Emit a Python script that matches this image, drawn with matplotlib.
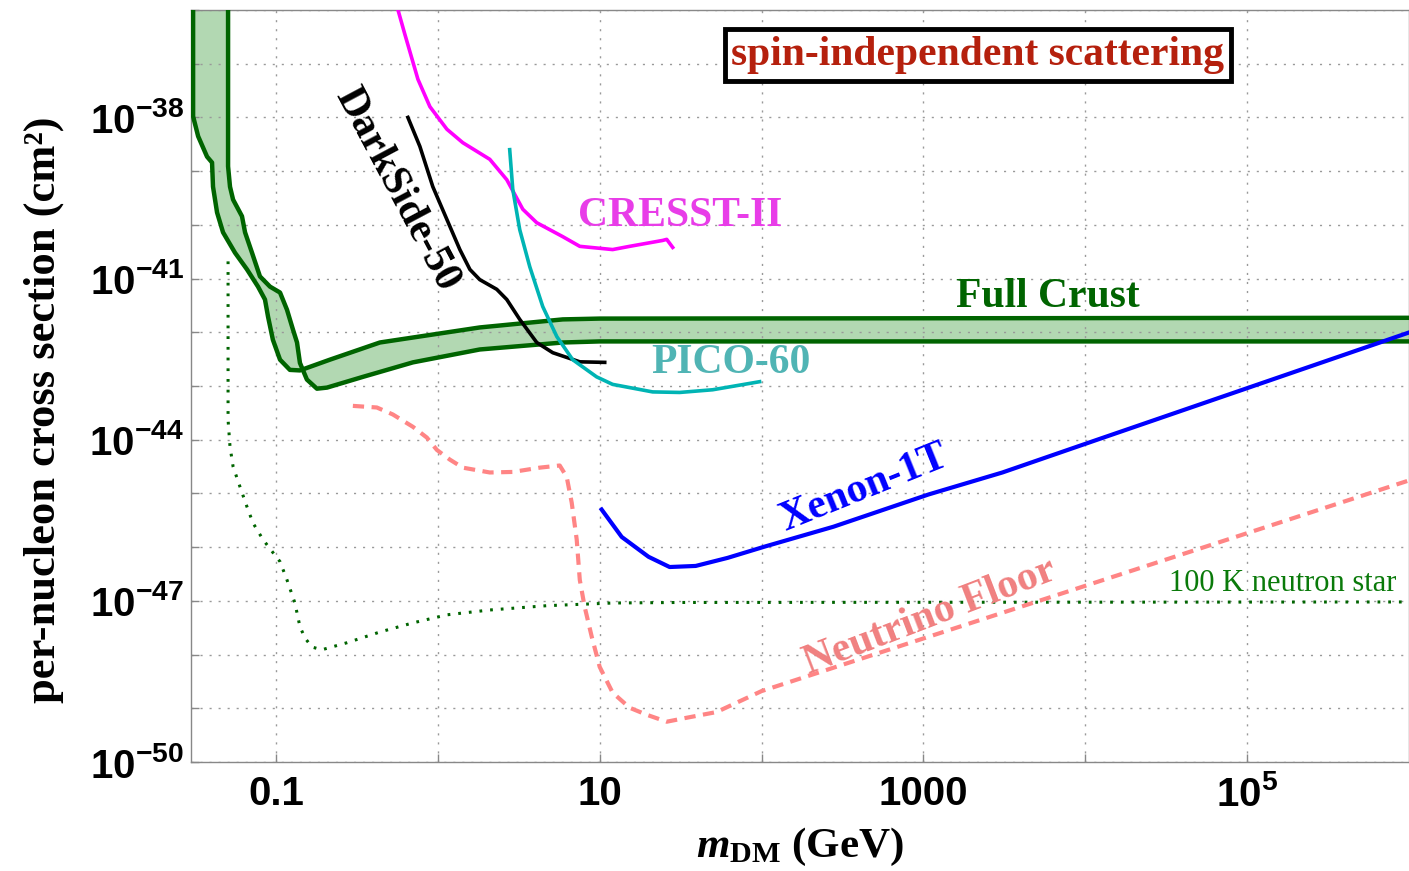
import numpy as np
import matplotlib
matplotlib.use('Agg')
import matplotlib.pyplot as plt
from matplotlib.ticker import FixedLocator, FixedFormatter, NullLocator

plt.rcParams['font.family'] = ['Liberation Serif', 'DejaVu Serif']
plt.rcParams['mathtext.fontset'] = 'custom'
plt.rcParams['mathtext.rm'] = 'Liberation Serif:bold'
plt.rcParams['mathtext.it'] = 'Liberation Serif:italic:bold'
plt.rcParams['mathtext.bf'] = 'Liberation Serif:bold'
plt.rcParams['mathtext.sf'] = 'Liberation Sans:bold'

# --- data: log10(m / GeV), log10(sigma / cm^2) ---
crust_upper_logm = [-1.512, -1.512, -1.481, -1.426, -1.395, -1.389, -1.364, -1.327, -1.253,
                    -1.179, -1.111, -1.068, -1.049, -1.019, -0.975, -0.914, -0.852, -0.667,
                    -0.358, 0.259, 0.772, 1.0, 6.1]
crust_upper_logs = [-35.5, -37.98, -38.35, -38.73, -38.84, -39.29, -39.77, -40.14, -40.52,
                    -40.83, -41.15, -41.39, -41.71, -42.14, -42.51, -42.70, -42.71, -42.51,
                    -42.19, -41.91, -41.76, -41.745, -41.73]

crust_lower_logm = [-1.296, -1.296, -1.284, -1.265, -1.210, -1.191, -1.148, -1.099, -1.037,
                    -0.975, -0.932, -0.895, -0.870, -0.852, -0.809, -0.747, -0.685, -0.463,
                    -0.154, 0.259, 0.772, 1.0, 6.1]
crust_lower_logs = [-35.5, -38.91, -39.29, -39.53, -39.84, -40.14, -40.52, -40.96, -41.15,
                    -41.26, -41.58, -41.95, -42.19, -42.57, -42.88, -43.05, -43.03, -42.83,
                    -42.56, -42.32, -42.19, -42.17, -42.17]

ns100_logm = [-1.296, -1.296, -1.296, -1.284, -1.265, -1.222, -1.179, -1.142, -1.080, -1.019,
              -0.975, -0.932, -0.883, -0.852, -0.821, -0.778, -0.716, -0.562, -0.358, -0.154,
              0.056, 0.321, 0.673, 1.080, 1.494, 6.1]
ns100_logs = [-40.68, -43.07, -43.63, -44.13, -44.50, -44.88, -45.25, -45.55, -45.86, -46.10,
              -46.27, -46.61, -47.04, -47.48, -47.69, -47.86, -47.91, -47.78, -47.58, -47.41,
              -47.26, -47.17, -47.09, -47.04, -47.03, -47.02]

nu_floor_logm = [-0.525, -0.377, -0.278, -0.154, -0.068, -0.006, 0.074, 0.154, 0.321, 0.463,
                 0.630, 0.753, 0.796, 0.827, 0.858, 0.877, 0.907, 0.951, 1.0, 1.080, 1.185,
                 1.290, 1.414, 1.531, 1.722, 2.0, 3.0, 4.0, 5.0, 5.957, 6.1]
nu_floor_logs = [-43.37, -43.40, -43.53, -43.76, -43.96, -44.19, -44.37, -44.52, -44.61, -44.60,
                 -44.52, -44.48, -44.69, -45.17, -45.86, -46.61, -47.11, -47.67, -48.23, -48.71,
                 -48.99, -49.12, -49.25, -49.18, -49.07, -48.68, -47.70, -46.72, -45.74, -44.80,
                 -44.66]

xenon_logm = [1.012, 1.136, 1.302, 1.432, 1.593, 1.790, 2.019, 2.444, 3.031, 3.488, 4.074, 5.994]
xenon_logs = [-45.30, -45.81, -46.18, -46.37, -46.35, -46.20, -45.99, -45.62, -45.02, -44.61,
              -44.00, -42.01]

cresst_logm = [-0.247, -0.204, -0.123, -0.049, 0.056, 0.154, 0.321, 0.426, 0.525, 0.611, 0.772,
               0.877, 1.080, 1.185, 1.389, 1.414, 1.451]
cresst_logs = [-35.99, -36.45, -37.29, -37.80, -38.22, -38.47, -38.78, -39.16, -39.71, -39.96,
               -40.22, -40.40, -40.46, -40.40, -40.29, -40.27, -40.42]

darkside_logm = [-0.185, -0.111, -0.031, 0.056, 0.136, 0.198, 0.259, 0.364, 0.426, 0.506, 0.611,
                 0.710, 0.877, 1.031]
darkside_logs = [-38.00, -38.54, -39.29, -39.90, -40.46, -40.83, -41.02, -41.20, -41.39, -41.76,
                 -42.19, -42.38, -42.55, -42.56]

pico_logm = [0.444, 0.463, 0.506, 0.568, 0.648, 0.735, 0.833, 0.981, 1.080, 1.327, 1.494, 1.698,
             1.988]
pico_logs = [-38.60, -39.34, -40.09, -40.78, -41.52, -42.08, -42.51, -42.83, -42.97, -43.11,
             -43.12, -43.07, -42.92]

x_ticks = [0.1, 1, 10, 100, 1000, 1e4, 1e5]
x_tick_labels = ['0.1', '', '10', '', '1000', '', r'$\mathsf{10^5}$']
y_ticks = [10.0 ** e for e in range(-50, -35)]
y_tick_labels = [r'$\mathsf{10^{%d}}$' % e if (e + 50) % 3 == 0 and e < -36 else ''
                 for e in range(-50, -35)]


def pts(logm, logs):
    return 10.0 ** np.array(logm), 10.0 ** np.array(logs)


fig = plt.figure(figsize=(14.09, 8.71), dpi=100)
ax = fig.add_axes([191 / 1409, 1 - 762 / 871, 1218 / 1409, 752 / 871])
ax.set_xscale('log')
ax.set_yscale('log')
ax.set_xlim(10 ** -1.525, 10 ** 6.0)
ax.set_ylim(1e-50, 1e-36)

green = '#006400'

# Full crust band
ua_m, ua_s = pts(crust_upper_logm, crust_upper_logs)
lb_m, lb_s = pts(crust_lower_logm, crust_lower_logs)
ax.fill(np.concatenate([ua_m, lb_m[::-1]]), np.concatenate([ua_s, lb_s[::-1]]),
        color='green', alpha=0.3, lw=0, zorder=1)
ax.plot(ua_m, ua_s, color=green, lw=3.2, zorder=3)
ax.plot(lb_m, lb_s, color=green, lw=3.2, zorder=3)

# 100 K neutron star
m, s = pts(ns100_logm, ns100_logs)
ax.plot(m, s, color=green, lw=2.2, linestyle=(0, (0.9, 2.6)), zorder=2)

# Neutrino floor
m, s = pts(nu_floor_logm, nu_floor_logs)
ax.plot(m, s, color='#ff8585', lw=3, linestyle=(0, (2.7, 1.8)), zorder=2)

# Experiments
m, s = pts(xenon_logm, xenon_logs)
ax.plot(m, s, color='#0000ff', lw=3, zorder=4)
m, s = pts(cresst_logm, cresst_logs)
ax.plot(m, s, color='#ff00ff', lw=2.6, zorder=4)
m, s = pts(darkside_logm, darkside_logs)
ax.plot(m, s, color='black', lw=2.6, zorder=4)
m, s = pts(pico_logm, pico_logs)
ax.plot(m, s, color='#00b4b4', lw=2.6, zorder=4)

# Axes styling
ax.xaxis.set_major_locator(FixedLocator(x_ticks))
ax.xaxis.set_major_formatter(FixedFormatter(x_tick_labels))
ax.yaxis.set_major_locator(FixedLocator(y_ticks))
ax.yaxis.set_major_formatter(FixedFormatter(y_tick_labels))
ax.xaxis.set_minor_locator(NullLocator())
ax.yaxis.set_minor_locator(NullLocator())
ax.tick_params(direction='in', length=6, width=1, color='#888888', labelcolor='black')
ax.tick_params(axis='x', pad=9)
ax.tick_params(axis='y', pad=5)
for lbl in ax.get_xticklabels():
    lbl.set_fontfamily('Liberation Sans')
    lbl.set_fontweight('bold')
    lbl.set_fontsize(29)
for lbl in ax.get_yticklabels():
    lbl.set_fontfamily('Liberation Sans')
    lbl.set_fontweight('bold')
    lbl.set_fontsize(29)
for spine in ax.spines.values():
    spine.set_color('#888888')
    spine.set_linewidth(1)
ax.grid(True, which='major', color='#999999', linestyle=(0, (1.5, 5)), linewidth=1)

ax.set_xlabel(r'$m_{\mathrm{DM}}$ (GeV)', fontsize=31, fontweight='bold')
ax.xaxis.set_label_coords(0.5, -0.085)
ax.set_ylabel('per-nucleon cross section (cm²)', fontsize=32, fontweight='bold')
ax.yaxis.set_label_coords(-0.104, 0.468)

# Labels
bold = dict(fontweight='bold', fontsize=30, ha='center', va='center', transform=ax.transAxes)
ax.text(0.646, 0.940, 'spin-independent scattering', color='#b5200d', zorder=6,
        bbox=dict(boxstyle='square,pad=0.16', facecolor='white', edgecolor='black', lw=3.5),
        **bold)
ax.text(0.169, 0.761, 'DarkSide-50', color='black', rotation=-62, **bold)
ax.text(0.4015, 0.726, 'CRESST-II', color='#e83de8', **bold)
ax.text(0.7036, 0.618, 'Full Crust', color=green, **bold)
ax.text(0.4433, 0.531, 'PICO-60', color='#50b4b4', **bold)
ax.text(0.5525, 0.364, 'Xenon-1T', color='#0000ff', rotation=22, **bold)
ax.text(0.6067, 0.193, 'Neutrino Floor', color='#f08080', rotation=21, **bold)
ax.text(0.8030, 0.238, '100 K neutron star', color='#0a7a0a', fontsize=22,
        ha='left', va='center', transform=ax.transAxes)

fig.savefig('out.png', dpi=100, facecolor='white')
